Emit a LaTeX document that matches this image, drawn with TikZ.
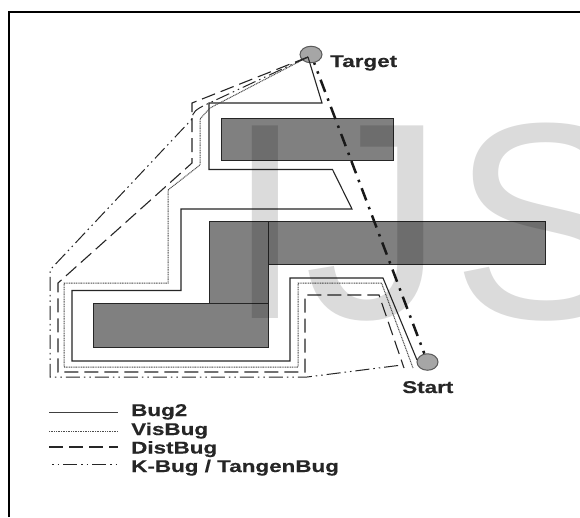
\documentclass[tikz,border=0pt]{standalone}
\usepackage{fontspec}
\usetikzlibrary{shapes.geometric}
\setmainfont{Liberation Sans}
\newfontfamily\lblfont[FakeStretch=1.32,FakeBold=0.4]{Liberation Sans Bold}
\newfontfamily\wmfont{Liberation Sans}
\begin{document}
\begin{tikzpicture}[x=1pt,y=-1pt,
  obstacle/.style={draw=black!85,fill=black!50,line width=1.1pt},
  bugtwo/.style={draw=black!85,line width=1.1pt},
  legendline/.style={draw=black!75,line width=1pt},
  visbug/.style={draw=black!70,line width=1pt,dash pattern=on 1pt off 0.7pt},
  distbug/.style={draw=black!85,line width=1.1pt,dash pattern=on 14pt off 6pt},
  kbug/.style={draw=black!85,line width=1pt,dash pattern=on 14pt off 4pt on 1.5pt off 4pt on 1.5pt off 4pt},
  direct/.style={draw=black!90,line width=2.5pt,dash pattern=on 13pt off 7pt on 2.5pt off 6.5pt,dash phase=11pt},
  endpoint/.style={ellipse,draw=black!65,fill=black!35,line width=1pt,minimum width=#1,minimum height=16.5pt,inner sep=0pt},
  lbl/.style={font=\lblfont\fontsize{17}{17}\selectfont,text=black!85,inner sep=0pt,anchor=base west},
]
\useasboundingbox (0,0) rectangle (580,517);
\fill[white] (0,0) rectangle (580,517);
\draw[black,line width=1.2pt] (9,517) -- (9,12) -- (580,12);
% obstacles
\node[obstacle,minimum width=172.5pt,minimum height=42pt,inner sep=0pt,anchor=north west] (topbox) at (220.5,117.5) {};
\node[obstacle,minimum width=336pt,minimum height=43.5pt,inner sep=0pt,anchor=north west] (longbox) at (209,220.5) {};
\node[obstacle,minimum width=59pt,minimum height=82.5pt,inner sep=0pt,anchor=north west] (stembox) at (209,220.5) {};
\node[obstacle,minimum width=175pt,minimum height=44pt,inner sep=0pt,anchor=north west] (footbox) at (93,303) {};
% end points
\node[endpoint=22pt] (target) at (311,54.5) {};
\node[endpoint=21pt] (start) at (427.5,362) {};
% routes
\coordinate (tgt) at (308,57);
\coordinate (stt) at (417,360);
\draw[bugtwo] (tgt) -- (322,103) -- (209,103) -- (209,169.5) -- (332.5,169.5) -- (352,209) -- (181,209) -- (181,290.5) -- (72,290.5) -- (72,361) -- (290,361) -- (290,278) -- (383,278) -- (stt);
\draw[visbug] (tgt) -- (210,108) -- (200,119) -- (200,165) -- (168,190) -- (168,283) -- (64,283) -- (64,367) -- (298,367) -- (298,283) -- (381.5,283) -- (413,368);
\draw[distbug] (tgt) -- (192,103) -- (192,163) -- (58,283) -- (58,372) -- (305,372) -- (305,295) -- (379,295) -- (404,368);
\draw[kbug] (tgt) -- (205,105) .. controls (197,109) and (192,112) .. (192,119) -- (50,270) -- (50,377) -- (307,377) -- (402,365);
\draw[direct] (target) -- (start);
% labels
\node[lbl] (ltarget) at (330,67) {Target};
\node[lbl] (lstart) at (402,393) {Start};
\coordinate (a1) at (49,412); \coordinate (a2) at (118,412);
\coordinate (b1) at (49,431); \coordinate (b2) at (118,431);
\coordinate (c1) at (49,447); \coordinate (c2) at (118,447);
\coordinate (d1) at (52,464.5); \coordinate (d2) at (118,464.5);
\draw[legendline] (a1) -- (a2);
\draw[visbug] (b1) -- (b2);
\draw[distbug] (c1) -- (c2);
\draw[kbug,dash phase=18pt] (d1) -- (d2);
\node[lbl] (l1) at (131,416) {Bug2};
\node[lbl] (l2) at (131,435) {VisBug};
\node[lbl] (l3) at (131,453.5) {DistBug};
\node[lbl] (l4) at (131,472) {K-Bug / TangenBug};
% watermark
\begin{scope}
\clip (0,0) rectangle (580,517);
\node[anchor=base west,inner sep=0pt,text=black,text opacity=0.14,font=\wmfont\fontsize{280}{280}\selectfont] (mark) at (226,318) {IJ\kern7pt S};
\end{scope}
\end{tikzpicture}
\end{document}
